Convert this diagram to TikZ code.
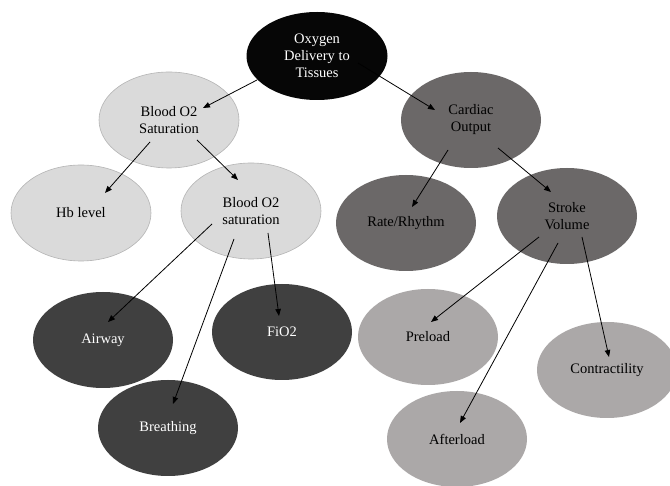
\documentclass[tikz,border=0pt]{standalone}
\usepackage{fontspec}
\setmainfont{Liberation Serif}
\usetikzlibrary{shapes.geometric,arrows.meta}
\definecolor{cBlack}{HTML}{060606}
\definecolor{cLight}{HTML}{DADADA}
\definecolor{cLightBorder}{HTML}{B4B4B4}
\definecolor{cWarm}{HTML}{6B6868}
\definecolor{cDark}{HTML}{404040}
\definecolor{cMid}{HTML}{ABA8A8}
\tikzset{
  bubble/.style={ellipse, inner sep=0pt, minimum width=140pt, minimum height=96pt, align=center,
     font=\fontsize{14.5}{17}\selectfont},
  rootbubble/.style={bubble, fill=cBlack, text=white, minimum width=141pt, minimum height=88pt},
  lightbubble/.style={bubble, fill=cLight, draw=cLightBorder, line width=0.6pt, text=black},
  warmbubble/.style={bubble, fill=cWarm, text=black},
  darkbubble/.style={bubble, fill=cDark, text=white},
  midbubble/.style={bubble, fill=cMid, text=black},
  link/.style={draw=black, line width=0.8pt, -{Triangle[length=7pt,width=5.5pt]}}
}
\begin{document}
\begin{tikzpicture}[x=1pt,y=-1pt]
\useasboundingbox (0,0) rectangle (670,486);
\fill[white] (0,0) rectangle (670,486);

\node[rootbubble]  (ox)   at (317,56)  {Oxygen\\Delivery to\\Tissues};
\node[lightbubble] (bos)  at (169,120) {Blood O2\\Saturation};
\node[warmbubble]  (co)   at (471,120) {Cardiac\\Output};
\node[lightbubble] (hb)   at (81,213)  {Hb level};
\node[lightbubble] (bos2) at (251,211) {Blood O2\\saturation};
\node[warmbubble]  (rr)   at (406,223) {Rate/Rhythm};
\node[warmbubble]  (sv)   at (567,216) {Stroke\\Volume};
\node[darkbubble]  (aw)   at (103,340) {Airway};
\node[darkbubble]  (fio)  at (282,332) {FiO2};
\node[darkbubble]  (br)   at (168,428) {Breathing};
\node[midbubble]   (pre)  at (428,337) {Preload};
\node[midbubble]   (con)  at (607,370) {Contractility};
\node[midbubble]   (aft)  at (457,439) {Afterload};

\draw[link] ([shift={(-60,24)}]ox.center) -- ([shift={(34,-12)}]bos.center);
\draw[link] ([shift={(41,7)}]ox.center) -- ([shift={(-36,-10)}]co.center);
\draw[link] ([shift={(-19,22)}]bos.center) -- ([shift={(24,-20)}]hb.center);
\draw[link] ([shift={(28,20)}]bos.center) -- ([shift={(-13,-31)}]bos2.center);
\draw[link] ([shift={(-23,30)}]co.center) -- ([shift={(6,-16)}]rr.center);
\draw[link] ([shift={(27,28)}]co.center) -- ([shift={(-16,-24)}]sv.center);
\draw[link] ([shift={(-39,13)}]bos2.center) -- ([shift={(5,-18)}]aw.center);
\draw[link] ([shift={(-17,28)}]bos2.center) -- ([shift={(5,-24)}]br.center);
\draw[link] ([shift={(17,22)}]bos2.center) -- ([shift={(-3,-16)}]fio.center);
\draw[link] ([shift={(-28,21)}]sv.center) -- ([shift={(3,-15)}]pre.center);
\draw[link] ([shift={(-9,27)}]sv.center) -- ([shift={(3,-16)}]aft.center);
\draw[link] ([shift={(15,21)}]sv.center) -- ([shift={(2,-13)}]con.center);
\end{tikzpicture}
\end{document}
